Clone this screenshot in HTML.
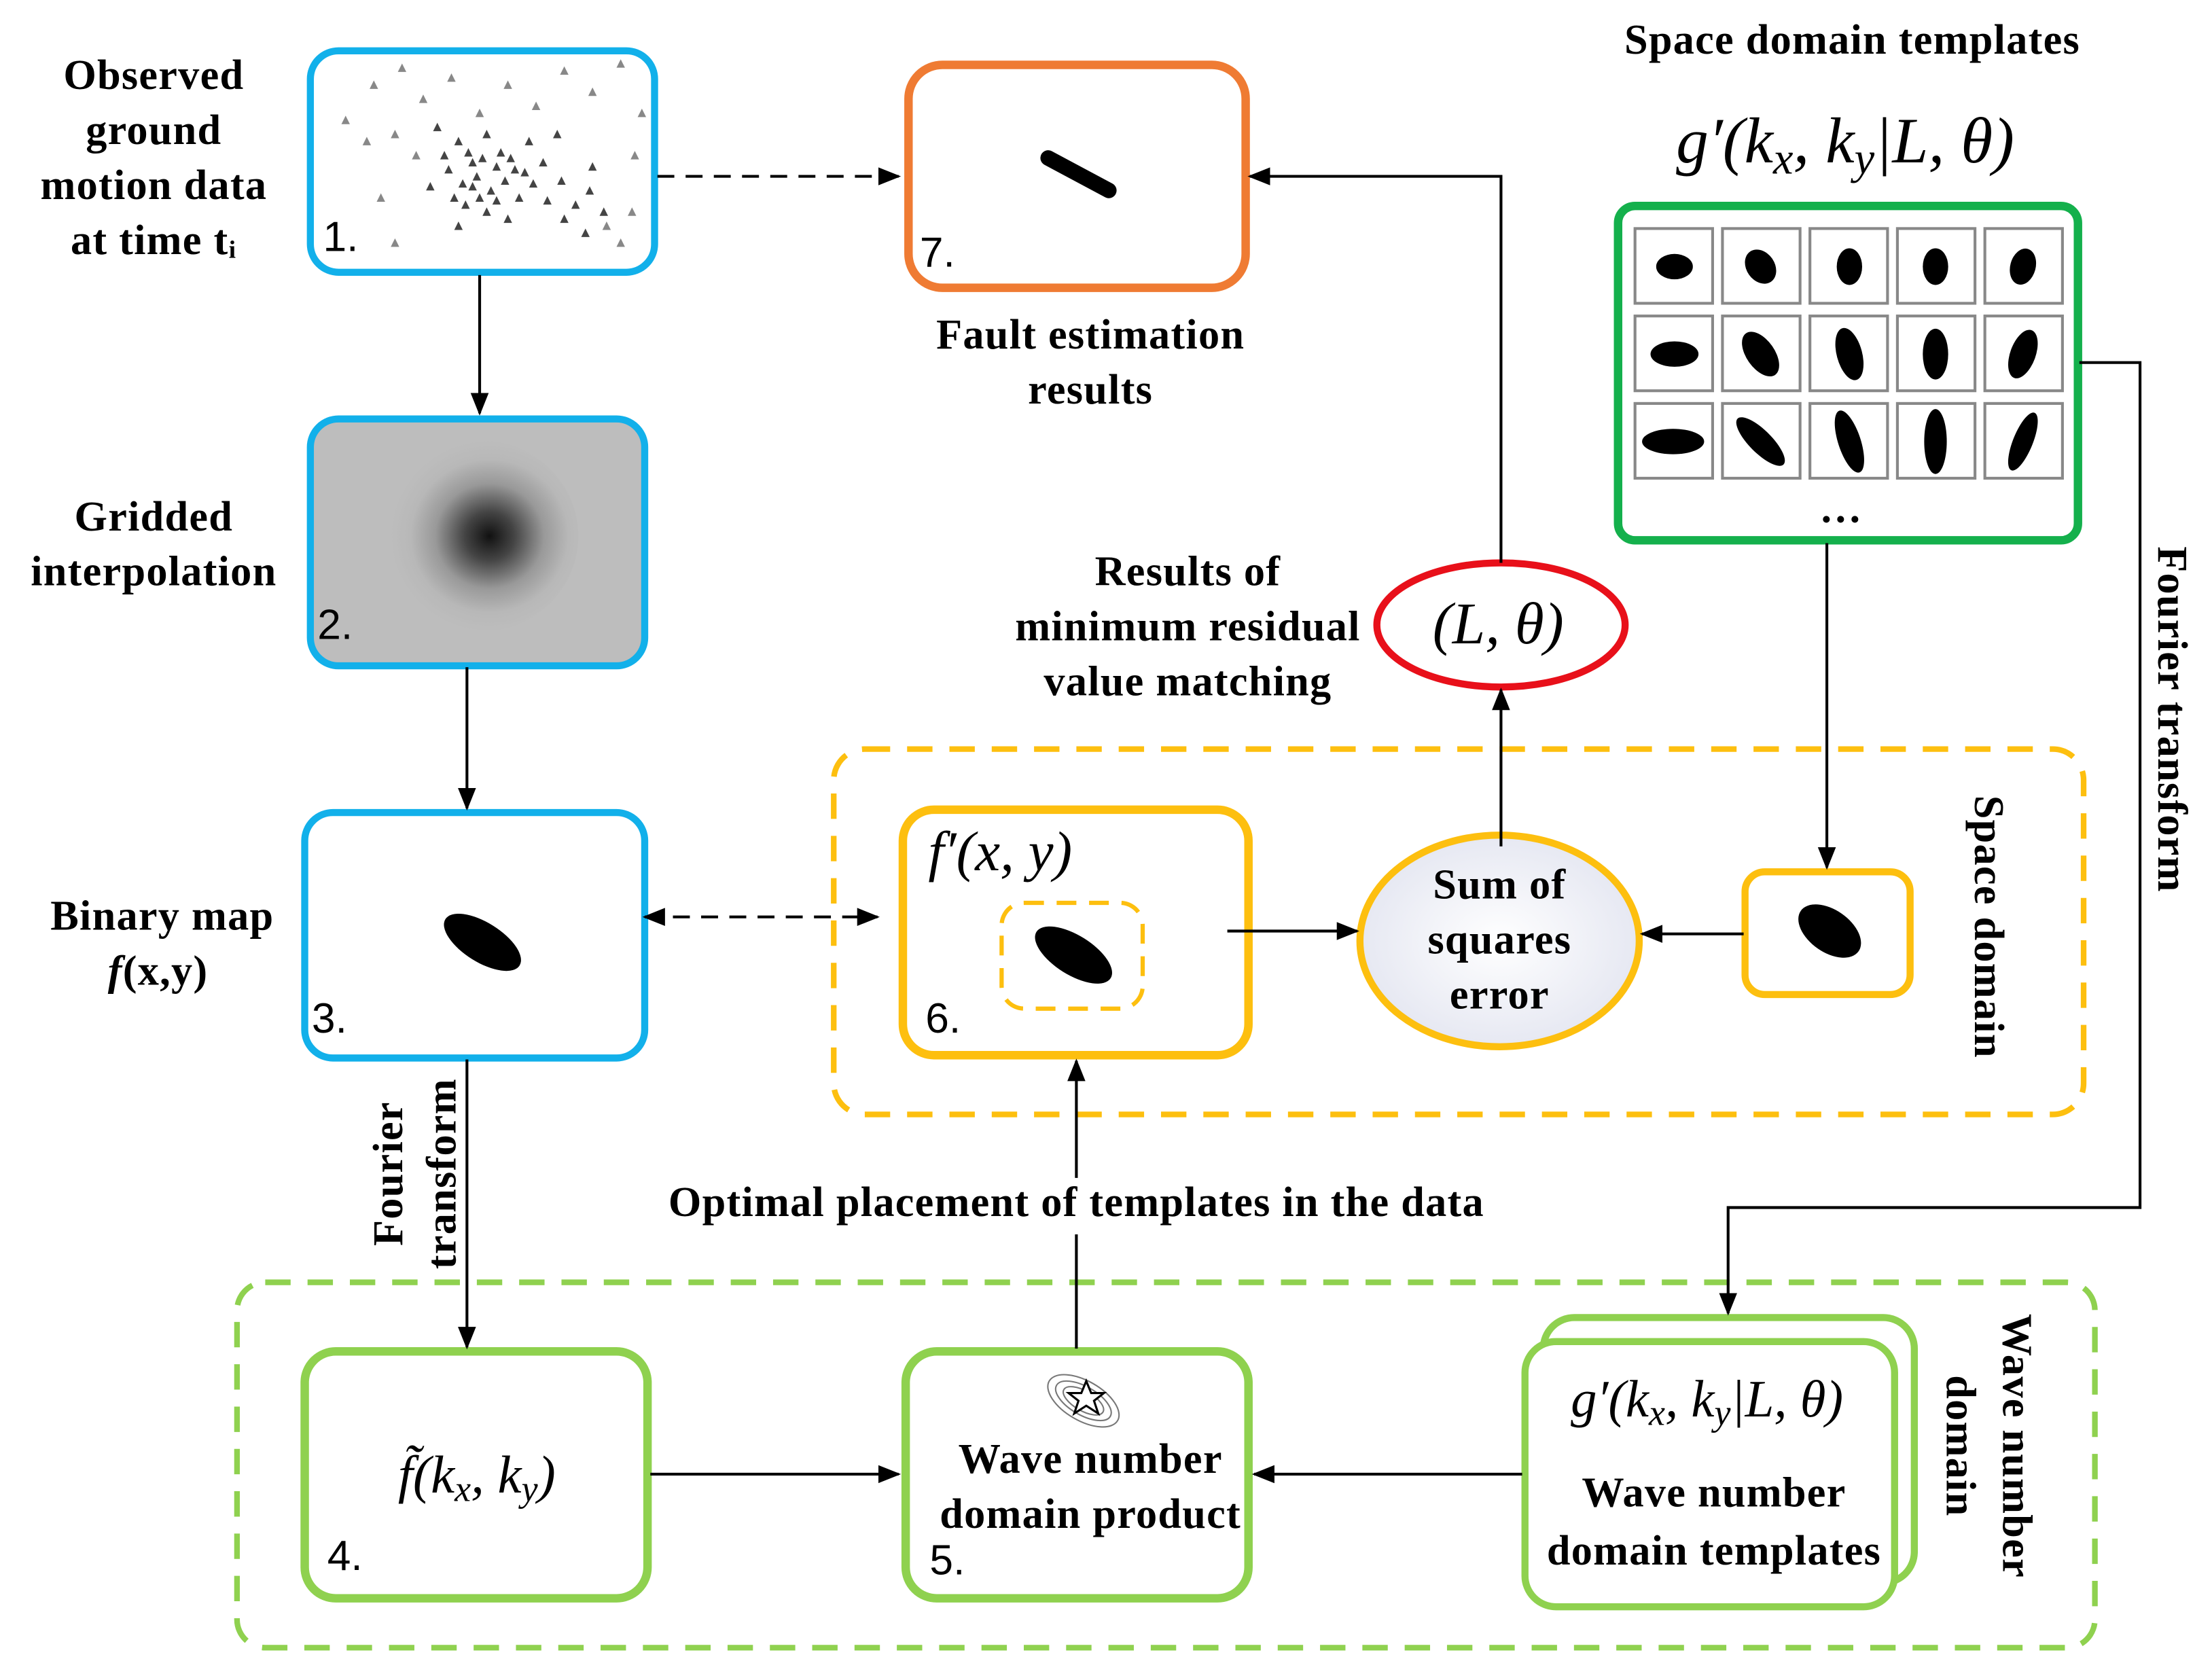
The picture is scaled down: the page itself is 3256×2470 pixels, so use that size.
<!DOCTYPE html>
<html><head><meta charset="utf-8"><style>
html,body{margin:0;padding:0;background:#fff;width:3256px;height:2470px;overflow:hidden}
svg{display:block}
.t{font-family:"Liberation Serif",serif;font-weight:bold;font-size:30px;letter-spacing:0.6px;fill:#000}
.m{font-family:"Liberation Serif",serif;font-style:italic;fill:#000}
.n{font-family:"Liberation Sans",sans-serif;font-size:30px;fill:#000}
.ln{stroke:#000;stroke-width:2;fill:none}
</style></head><body>
<svg width="3256" height="2470" viewBox="0 0 1568 1189.5" xmlns="http://www.w3.org/2000/svg">
<defs>
<marker id="A" viewBox="0 0 10 10" refX="9" refY="5" markerWidth="16" markerHeight="16" orient="auto-start-reverse" markerUnits="userSpaceOnUse"><path d="M0,1L10,5L0,9z" fill="#000"/></marker>
<radialGradient id="g2" cx="0.55" cy="0.5" r="0.5"><stop offset="0" stop-color="#111"/><stop offset="0.25" stop-color="#444"/><stop offset="0.55" stop-color="#999"/><stop offset="0.8" stop-color="#b8b8b8"/><stop offset="1" stop-color="#bdbdbd"/></radialGradient>
<radialGradient id="gs" cx="0.5" cy="0.5" r="0.5"><stop offset="0" stop-color="#fff"/><stop offset="1" stop-color="#e6e8f2"/></radialGradient>
<path id="tr" d="M0,-3L3,3L-3,3z"/>
</defs>

<g class="t" text-anchor="middle">
<text x="109" y="63">Observed</text><text x="109" y="102">ground</text><text x="109" y="141">motion data</text><text x="109" y="180">at time tᵢ</text>
<text x="109" y="376">Gridded</text><text x="109" y="415">interpolation</text>
<text x="115" y="659">Binary map</text>
<text x="773" y="247">Fault estimation</text><text x="773" y="286">results</text>
<text x="842" y="415">Results of</text><text x="842" y="454">minimum residual</text><text x="842" y="493">value matching</text>
<text x="763" y="862">Optimal placement of templates in the data</text>
</g>
<text x="1313" y="38" class="t" text-anchor="middle" font-size="33">Space domain templates</text>
<text x="112" y="698" class="t" text-anchor="middle"><tspan font-style="italic">f</tspan>(x,y)</text>

<!-- Box1 -->
<rect x="220" y="36" width="244" height="157" rx="20" fill="#fff" stroke="#12b0ea" stroke-width="5"/>
<g fill="#888">
<use href="#tr" x="265" y="60"/><use href="#tr" x="285" y="48"/><use href="#tr" x="300" y="70"/><use href="#tr" x="320" y="55"/><use href="#tr" x="340" y="80"/><use href="#tr" x="360" y="60"/><use href="#tr" x="380" y="75"/><use href="#tr" x="400" y="50"/><use href="#tr" x="420" y="65"/><use href="#tr" x="440" y="45"/><use href="#tr" x="455" y="80"/>
<use href="#tr" x="245" y="85"/><use href="#tr" x="260" y="100"/><use href="#tr" x="280" y="95"/><use href="#tr" x="295" y="110"/><use href="#tr" x="270" y="140"/><use href="#tr" x="280" y="172"/><use href="#tr" x="450" y="110"/><use href="#tr" x="440" y="172"/><use href="#tr" x="430" y="160"/><use href="#tr" x="448" y="150"/>
</g>
<g fill="#444">
<use href="#tr" x="310" y="90"/><use href="#tr" x="325" y="100"/><use href="#tr" x="335" y="115"/><use href="#tr" x="345" y="95"/><use href="#tr" x="355" y="108"/><use href="#tr" x="365" y="120"/><use href="#tr" x="375" y="100"/><use href="#tr" x="385" y="115"/><use href="#tr" x="395" y="95"/>
<use href="#tr" x="318" y="120"/><use href="#tr" x="328" y="130"/><use href="#tr" x="338" y="125"/><use href="#tr" x="348" y="135"/><use href="#tr" x="358" y="128"/><use href="#tr" x="368" y="140"/><use href="#tr" x="378" y="130"/><use href="#tr" x="388" y="142"/><use href="#tr" x="398" y="128"/><use href="#tr" x="408" y="145"/><use href="#tr" x="418" y="135"/><use href="#tr" x="428" y="150"/>
<use href="#tr" x="330" y="145"/><use href="#tr" x="345" y="150"/><use href="#tr" x="360" y="155"/><use href="#tr" x="400" y="155"/><use href="#tr" x="415" y="165"/><use href="#tr" x="325" y="160"/><use href="#tr" x="420" y="118"/><use href="#tr" x="305" y="132"/>
<use href="#tr" x="332" y="108"/><use href="#tr" x="342" y="112"/><use href="#tr" x="352" y="118"/><use href="#tr" x="362" y="112"/><use href="#tr" x="372" y="122"/><use href="#tr" x="340" y="140"/><use href="#tr" x="352" y="142"/><use href="#tr" x="335" y="132"/><use href="#tr" x="315" y="110"/><use href="#tr" x="322" y="140"/>
</g>
<text x="229" y="178" class="n">1.</text>

<!-- Box2 -->
<rect x="220" y="297" width="237" height="175" rx="20" fill="#bdbdbd" stroke="#12b0ea" stroke-width="5"/>
<ellipse cx="340" cy="380" rx="70" ry="68" fill="url(#g2)"/>
<text x="225" y="453" class="n">2.</text>

<!-- Box3 -->
<rect x="216" y="576" width="241" height="174" rx="20" fill="#fff" stroke="#12b0ea" stroke-width="5"/>
<ellipse cx="342" cy="668" rx="31" ry="14" transform="rotate(32 342 668)" fill="#000"/>
<text x="221" y="732" class="n">3.</text>

<!-- Box7 -->
<rect x="644" y="46" width="239" height="158" rx="24" fill="#fff" stroke="#ef7b33" stroke-width="6"/>
<line x1="743" y1="112" x2="786" y2="135" stroke="#000" stroke-width="11" stroke-linecap="round"/>
<text x="652" y="189" class="n">7.</text>

<!-- templates -->
<text x="1308" y="115" class="m" font-size="46" text-anchor="middle">g′(k<tspan font-size="32" dy="8">x</tspan><tspan dy="-8">, k</tspan><tspan font-size="32" dy="8">y</tspan><tspan dy="-8">|L, θ)</tspan></text>
<rect x="1147" y="146" width="326" height="237" rx="12" fill="#fff" stroke="#14b04c" stroke-width="6"/>
<g fill="#fff" stroke="#888" stroke-width="2">
<rect x="1159" y="162" width="55" height="53"/><rect x="1221" y="162" width="55" height="53"/><rect x="1283" y="162" width="55" height="53"/><rect x="1345" y="162" width="55" height="53"/><rect x="1407" y="162" width="55" height="53"/>
<rect x="1159" y="224" width="55" height="53"/><rect x="1221" y="224" width="55" height="53"/><rect x="1283" y="224" width="55" height="53"/><rect x="1345" y="224" width="55" height="53"/><rect x="1407" y="224" width="55" height="53"/>
<rect x="1159" y="286" width="55" height="53"/><rect x="1221" y="286" width="55" height="53"/><rect x="1283" y="286" width="55" height="53"/><rect x="1345" y="286" width="55" height="53"/><rect x="1407" y="286" width="55" height="53"/>
</g>
<g fill="#000">
<ellipse cx="1187" cy="189" rx="13" ry="9"/><ellipse cx="1248" cy="189" rx="10" ry="13" transform="rotate(-35 1248 189)"/><ellipse cx="1311" cy="189" rx="9" ry="13"/><ellipse cx="1372" cy="189" rx="9" ry="13"/><ellipse cx="1434" cy="189" rx="9" ry="13" transform="rotate(15 1434 189)"/>
<ellipse cx="1187" cy="251" rx="17" ry="9"/><ellipse cx="1248" cy="251" rx="10" ry="18" transform="rotate(-35 1248 251)"/><ellipse cx="1311" cy="251" rx="9" ry="19" transform="rotate(-15 1311 251)"/><ellipse cx="1372" cy="251" rx="9" ry="18"/><ellipse cx="1434" cy="251" rx="9" ry="18" transform="rotate(20 1434 251)"/>
<ellipse cx="1186" cy="313" rx="22" ry="9"/><ellipse cx="1248" cy="313" rx="8" ry="23" transform="rotate(-45 1248 313)"/><ellipse cx="1311" cy="313" rx="8" ry="23" transform="rotate(-18 1311 313)"/><ellipse cx="1372" cy="313" rx="8" ry="23"/><ellipse cx="1434" cy="313" rx="7" ry="22" transform="rotate(22 1434 313)"/>
</g>
<text x="1305" y="370" class="t" text-anchor="middle">…</text>

<!-- red ellipse -->
<ellipse cx="1064" cy="443" rx="88" ry="44" fill="#fff" stroke="#e8101a" stroke-width="5"/>
<text x="1062" y="456" class="m" font-size="42" text-anchor="middle">(L, θ)</text>

<!-- yellow dashed region -->
<rect x="591" y="531" width="886" height="259" rx="22" fill="none" stroke="#fdbf0f" stroke-width="4" stroke-dasharray="18 12"/>
<rect x="640" y="574" width="245" height="174" rx="22" fill="#fff" stroke="#fdbf0f" stroke-width="6"/>
<text x="658" y="617" class="m" font-size="40">f′(x, y)</text>
<rect x="710" y="640" width="100" height="75" rx="16" fill="none" stroke="#fdbf0f" stroke-width="3" stroke-dasharray="14 9"/>
<ellipse cx="761" cy="677" rx="31" ry="14" transform="rotate(32 761 677)" fill="#000"/>
<text x="656" y="732" class="n">6.</text>
<ellipse cx="1063" cy="667" rx="99" ry="75" fill="url(#gs)" stroke="#fdbf0f" stroke-width="5"/>
<g class="t" text-anchor="middle"><text x="1063" y="637">Sum of</text><text x="1063" y="676">squares</text><text x="1063" y="715">error</text></g>
<rect x="1237" y="618" width="117" height="87" rx="14" fill="#fff" stroke="#fdbf0f" stroke-width="5"/>
<ellipse cx="1297" cy="660" rx="25" ry="15" transform="rotate(35 1297 660)" fill="#000"/>
<text x="1400" y="657" class="t" text-anchor="middle" transform="rotate(90 1400 657)" font-size="32">Space domain</text>

<!-- green dashed region -->
<rect x="168" y="909" width="1317" height="259" rx="20" fill="none" stroke="#8fd14f" stroke-width="4" stroke-dasharray="18 12"/>
<rect x="216" y="958" width="243" height="175" rx="22" fill="#fff" stroke="#8fd14f" stroke-width="6"/>
<text x="338" y="1058" class="m" font-size="38" text-anchor="middle">f̃(k<tspan font-size="26" dy="6">x</tspan><tspan dy="-6">, k</tspan><tspan font-size="26" dy="6">y</tspan><tspan dy="-6">)</tspan></text>
<text x="232" y="1113" class="n">4.</text>
<rect x="642" y="958" width="243" height="175" rx="22" fill="#fff" stroke="#8fd14f" stroke-width="6"/>
<g fill="none" stroke="#777" stroke-width="1"><ellipse cx="768" cy="993" rx="28" ry="14" transform="rotate(30 768 993)"/><ellipse cx="768" cy="993" rx="22" ry="10" transform="rotate(30 768 993)"/><ellipse cx="768" cy="993" rx="16" ry="7" transform="rotate(30 768 993)"/></g>
<path d="M770,979l3.5,8.5h9l-7,5.5l3,9l-8.5,-5.5l-8.5,5.5l3,-9l-7,-5.5h9z" fill="#fff" stroke="#000" stroke-width="1.5"/>
<g class="t" text-anchor="middle"><text x="773" y="1044">Wave number</text><text x="773" y="1083">domain product</text></g>
<text x="659" y="1116" class="n">5.</text>
<rect x="1094" y="934" width="263" height="188" rx="22" fill="#fff" stroke="#8fd14f" stroke-width="5"/>
<rect x="1081" y="951" width="262" height="188" rx="22" fill="#fff" stroke="#8fd14f" stroke-width="5"/>
<text x="1210" y="1004" class="m" font-size="37" text-anchor="middle">g′(k<tspan font-size="26" dy="6">x</tspan><tspan dy="-6">, k</tspan><tspan font-size="26" dy="6">y</tspan><tspan dy="-6">|L, θ)</tspan></text>
<g class="t" text-anchor="middle"><text x="1215" y="1068">Wave number</text><text x="1215" y="1109">domain templates</text></g>
<g class="t" text-anchor="middle" font-size="32"><text x="1420" y="1025" transform="rotate(90 1420 1025)">Wave number</text><text x="1380" y="1025" transform="rotate(90 1380 1025)">domain</text></g>

<text x="1530" y="510" class="t" text-anchor="middle" transform="rotate(90 1530 510)" font-size="32">Fourier transform</text>
<g class="t" text-anchor="middle"><text x="285" y="832" transform="rotate(-90 285 832)">Fourier</text><text x="323" y="832" transform="rotate(-90 323 832)">transform</text></g>

<!-- connectors -->
<line class="ln" x1="340" y1="195" x2="340" y2="293" marker-end="url(#A)"/>
<line class="ln" x1="331" y1="473" x2="331" y2="573" marker-end="url(#A)"/>
<line class="ln" x1="331" y1="751" x2="331" y2="955" marker-end="url(#A)"/>
<line class="ln" x1="466" y1="125" x2="637" y2="125" stroke-dasharray="12 8" marker-end="url(#A)"/>
<line class="ln" x1="457" y1="650" x2="622" y2="650" stroke-dasharray="12 8" marker-start="url(#A)" marker-end="url(#A)"/>
<polyline class="ln" points="1064,399 1064,125 886,125" marker-end="url(#A)"/>
<line class="ln" x1="1064" y1="600" x2="1064" y2="489" marker-end="url(#A)"/>
<line class="ln" x1="870" y1="660" x2="962" y2="660" marker-end="url(#A)"/>
<line class="ln" x1="1236" y1="662" x2="1164" y2="662" marker-end="url(#A)"/>
<line class="ln" x1="1295" y1="385" x2="1295" y2="615" marker-end="url(#A)"/>
<polyline class="ln" points="1474,257 1517,257 1517,856 1225,856 1225,931" marker-end="url(#A)"/>
<line class="ln" x1="763" y1="956" x2="763" y2="875"/>
<line class="ln" x1="763" y1="835" x2="763" y2="752" marker-end="url(#A)"/>
<line class="ln" x1="461" y1="1045" x2="637" y2="1045" marker-end="url(#A)"/>
<line class="ln" x1="1079" y1="1045" x2="889" y2="1045" marker-end="url(#A)"/>
</svg>
</body></html>
